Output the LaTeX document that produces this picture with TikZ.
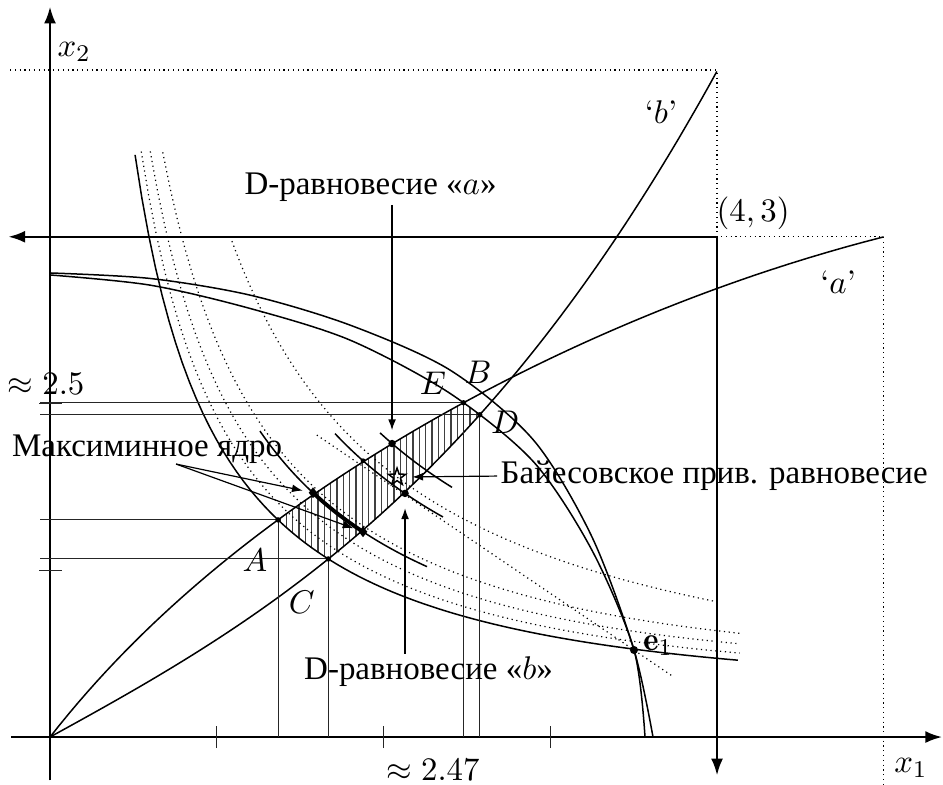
\documentclass[tikz,border=0pt]{standalone}
\usepackage{fontspec}
\newfontfamily\cyr{Liberation Serif}
\usetikzlibrary{arrows.meta,shapes.geometric,intersections,positioning}

\tikzset{
  axisline/.style={line width=0.8pt,-{Latex[length=5.6pt,width=4pt]}},
  curve/.style={line width=0.5pt},
  guide/.style={line width=0.33pt,black!85},
  dotline/.style={line width=0.4pt,dash pattern=on 0.4pt off 1.2pt},
  hatch/.style={line width=0.4pt,black!75},
  pointer/.style={line width=0.4pt,-{Latex[length=3.6pt,width=2.6pt]}},
  spot/.style={circle,fill,inner sep=0pt,minimum size=#1},
  spot/.default=1.8pt,
  core/.style={diamond,fill,inner sep=0pt,minimum width=3pt,minimum height=3.8pt},
  lbl/.style={font={\cyr\fontsize{11}{13}\selectfont},inner sep=1pt},
}

% offer curves and indifference curves through e1
\newcommand\offerA{plot[domain=0:5,samples=90] (\x,{2.164*ln(1+0.6*\x)+0.0035*\x*(5-\x)*(\x-1)})}
\newcommand\offerB{plot[domain=0.002:4,samples=90] (\x,{0.55*\x+0.0351*\x^2.838})}
\newcommand\indiffI{plot[domain=0.51:4.126,samples=90] (\x,{1.78/\x+0.003*(\x-1)^2})}
\newcommand\indiffII{plot[smooth] coordinates {(0,2.771) (0.6,2.71) (1.2,2.57) (1.8,2.38) (2.4,2.06) (2.9,1.65) (3.25,1.12) (3.502,0.522) (3.568,0)}}

\begin{document}
\begin{tikzpicture}[x=1.955cm,y=1.955cm,font=\fontsize{10.9}{13}\selectfont]
  \useasboundingbox (-0.3,-0.282) rectangle (5.355,4.42);
  \coordinate (O) at (0,0);
  \coordinate (yl) at (-0.06,0);
  \coordinate (e1) at (3.502,0.522);

  % hatched set
  \begin{scope}
    \clip \indiffI -- (4.126,4) -- (0.51,4) -- cycle;
    \clip \offerA -- (5,0) -- cycle;
    \clip \offerB -- (0,4) -- cycle;
    \clip \indiffII -- (0,0) -- cycle;
    \foreach \k in {0,...,33}
      \draw[hatch] ({1.379+0.038*\k},0.8) -- ++(0,1.4);
  \end{scope}

  % dotted frame and dotted curves
  \draw[dotline] (-0.24,4) -- (4,4) -- (4,3) -- (5,3) -- (5,-0.282);
  \draw[dotline] plot[domain=0.547:4.136,samples=80] (\x,{1.92/\x+0.004*(\x-1)^2});
  \draw[dotline] plot[domain=0.601:4.136,samples=80] (\x,{2.11/\x+0.005*(\x-1)^2});
  \draw[dotline] plot[domain=0.676:4.136,samples=80] (\x,{2.37/\x+0.005*(\x-1)^2});
  \draw[dotline] plot[domain=1.081:4,samples=80] (\x,{3.244/\x});
  \coordinate (bs) at (1.6,1.811);
  \coordinate (be) at (3.73,0.367);
  \draw[dotline] (bs) -- (be);

  % axes and the box
  \draw[axisline] (-0.234,0) -- (5.35,0);
  \draw[axisline] (0,-0.26) -- (0,4.38);
  \draw[axisline] (4,3) -- (-0.25,3);
  \draw[axisline] (4,3) -- (4,-0.23);
  \foreach \i in {1,2,3}
    \draw[guide] (\i,-0.066) -- (\i,0.066);
  \foreach \j in {1,2}
    \draw[guide] (-0.066,\j) -- (0.07,\j);

  % curves
  \draw[curve,name path=ca] \offerA;
  \draw[curve,name path=cb] \offerB;
  \draw[curve,name path=ione] \indiffI;
  \draw[curve,name path=itwo] \indiffII;
  \draw[curve] plot[smooth] coordinates {(0,2.783) (0.6,2.75) (1.2,2.65) (1.8,2.47) (2.4,2.2) (2.9,1.78) (3.25,1.2) (3.502,0.522) (3.616,0)};
  \path[name intersections={of=ca and ione,by=A}];
  \path[name intersections={of=cb and ione,by=C}];
  \path[name intersections={of=ca and itwo,by=E}];
  \path[name intersections={of=cb and itwo,by=D}];

  % short indifference curves
  \draw[curve] plot[domain=1.259:2.261,samples=40] (\x,{2.31/\x});
  \draw[line width=1.3pt] plot[domain=1.577:1.877,samples=20] (\x,{2.31/\x});
  \draw[curve] plot[domain=1.709:2.357,samples=40] (\x,{3.11/\x});
  \draw[curve] plot[domain=1.979:2.411,samples=30] (\x,{3.61/\x});

  % guide lines
  \foreach \p in {A,C,E,D} {
    \draw[guide] (\p -| yl) -- (\p);
    \draw[guide] (\p) -- (\p |- O);
  }

  % points
  \foreach \p in {A,C,E,D}
    \node[spot] at (\p) {};
  \node[spot=2.7pt] (pe) at (e1) {};
  \node[core] (m1) at (1.577,1.465) {};
  \node[core] (m2) at (1.877,1.231) {};
  \node[spot=2.5pt] (qa) at (2.051,1.760) {};
  \node[spot=2.5pt] (qb) at (2.129,1.461) {};
  \node[spot=1.6pt] (qs) at (1.877,1.657) {};
  \node[star,star points=5,star point ratio=2.5,draw,line width=0.5pt,inner sep=0pt,minimum size=6pt] (bay) at (2.081,1.559) {};

  % labels
  \node (lx2) at (0.144,4.108) {$x_2$};
  \node (lx1) at (5.163,-0.186) {$x_1$};
  \node (l43) at (4.216,3.142) {$(4,3)$};
  \node (lb) at (3.664,3.748) {`$b$'};
  \node (la) at (4.726,2.729) {`$a$'};
  \node (ly) at (-0.024,2.117) {$\approx 2.5$};
  \node (lx) at (2.297,-0.198) {$\approx 2.47$};
  \node (lA) at (1.229,1.061) {$A$};
  \node (lC) at (1.509,0.811) {$C$};
  \node (lE) at (2.297,2.123) {$E$};
  \node (lB) at (2.567,2.19) {$B$};
  \node (lD) at (2.729,1.889) {$D$};
  \node (le) at (3.646,0.546) {$\mathbf{e}_1$};

  \node[lbl] (dea) at (1.922,3.298) {D-равновесие «$a$»};
  \draw[pointer,shorten >=3pt] (dea.south -| qa) -- (qa);
  \node[lbl] (deb) at (2.270,0.39) {D-равновесие «$b$»};
  \draw[pointer,shorten >=3.5pt] (deb.north -| qb) -- (qb);
  \node[lbl,anchor=west] (bpe) at (2.681,1.565) {Байесовское прив. равновесие};
  \draw[pointer,shorten >=3pt] (bpe.west) -- (bay);
  \node[lbl] (mc) at (0.582,1.724) {Максиминное ядро};
  \coordinate (mt) at (0.756,1.637);
  \draw[pointer,shorten >=2pt] (mt) -- (m1);
  \draw[pointer,shorten >=2pt] (mt) -- (m2);
\end{tikzpicture}
\end{document}
